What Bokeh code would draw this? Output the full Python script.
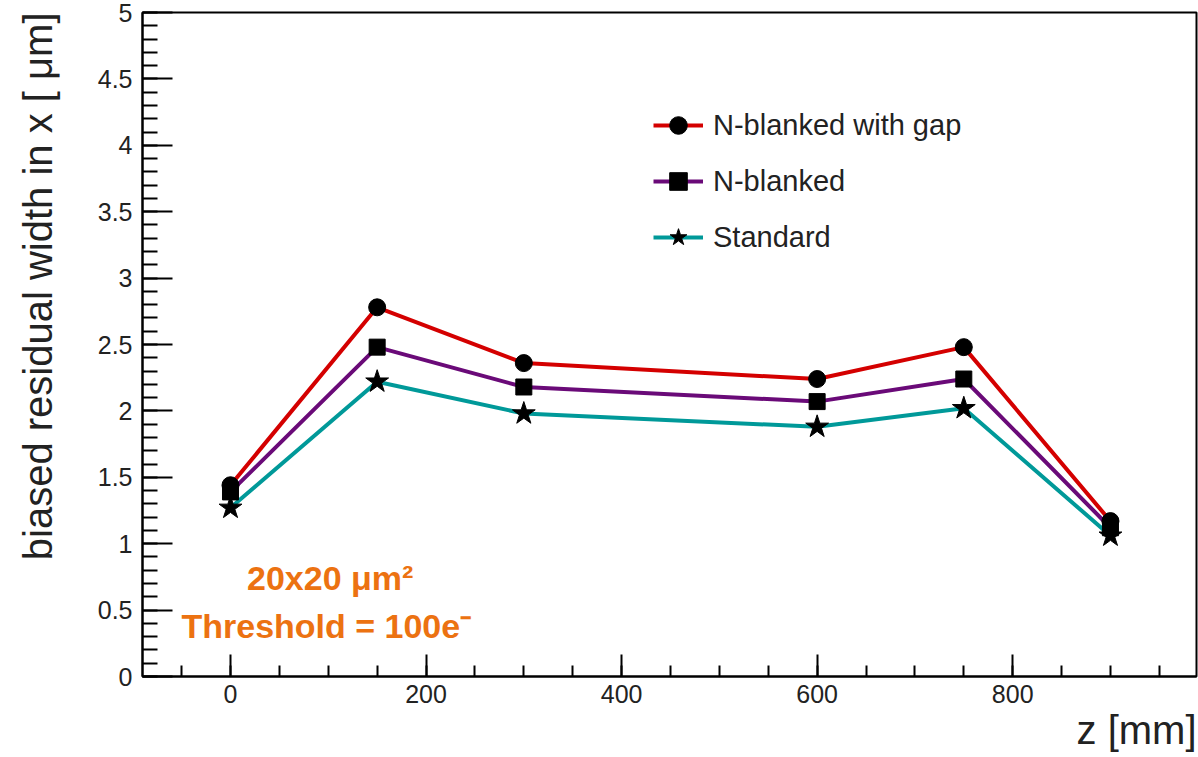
from bokeh.plotting import figure
from bokeh.models import (Range1d, SingleIntervalTicker, CustomJSTickFormatter, Label,
                          Legend, LegendItem, Title)
from bokeh.embed import file_html
from bokeh.resources import INLINE

# ---- data ----
z_mm = [0, 150, 300, 600, 750, 900]
nblanked_gap = [1.44, 2.78, 2.36, 2.24, 2.48, 1.17]
nblanked = [1.39, 2.48, 2.18, 2.07, 2.24, 1.12]
standard = [1.27, 2.22, 1.98, 1.88, 2.02, 1.06]
series_labels = ["N-blanked with gap", "N-blanked", "Standard"]
x_title = "z [mm]"
y_title = "biased residual width in x [ μm]"
note_lines = ["20x20 μm²", "Threshold = 100e⁻"]

FONT = "Liberation Sans"
TXT = "#222222"

p = figure(width=1198, height=757, output_backend="svg", toolbar_location=None,
           x_range=Range1d(-90, 988), y_range=Range1d(0, 5),
           min_border_left=142, min_border_right=2, min_border_top=12, min_border_bottom=81,
           background_fill_color="white", border_fill_color="white")
p.grid.visible = False
p.outline_line_color = "black"
p.outline_line_width = 2

# axes
p.xaxis.ticker = SingleIntervalTicker(interval=200, num_minor_ticks=4)
p.yaxis.ticker = SingleIntervalTicker(interval=0.5, num_minor_ticks=5)
p.yaxis.formatter = CustomJSTickFormatter(code="return tick.toString();")
for ax in (p.xaxis[0], p.yaxis[0]):
    ax.axis_line_color = "black"
    ax.axis_line_width = 2
    ax.major_tick_line_color = "black"
    ax.minor_tick_line_color = "black"
    ax.major_tick_line_width = 2
    ax.minor_tick_line_width = 2
    ax.major_tick_out = 0
    ax.minor_tick_out = 0
    ax.major_label_text_font = FONT
    ax.major_label_text_font_size = "25px"
    ax.major_label_text_color = TXT
p.xaxis.major_tick_in = 22
p.xaxis.minor_tick_in = 11
p.xaxis.major_label_standoff = 8
p.yaxis.major_tick_in = 30
p.yaxis.minor_tick_in = 15
p.yaxis.major_label_standoff = 10

# series
colors = ["#d40000", "#6a0a78", "#009999"]
markers = ["circle", "square", "star"]
sizes = [17, 16, 24]
items = []
for vals, col, lab in zip([nblanked_gap, nblanked, standard], colors, series_labels):
    lr = p.line(z_mm, vals, line_color=col, line_width=4)
    items.append((lab, lr, vals))
legend_items = []
for (lab, lr, vals), mk, sz in zip(items, markers, sizes):
    sr = p.scatter(z_mm, vals, marker=mk, size=sz, fill_color="black", line_color="black")
    legend_items.append(LegendItem(label=lab, renderers=[lr, sr]))

legend = Legend(items=legend_items, location=(511, 417), orientation="vertical",
                glyph_width=50, glyph_height=44, label_height=44, spacing=12,
                label_standoff=10, padding=0, margin=0,
                border_line_alpha=0, background_fill_alpha=0,
                label_text_font=FONT, label_text_font_size="29px", label_text_color=TXT)
p.add_layout(legend)

# axis titles (a thin spacer keeps the y title near the outer edge)
p.add_layout(Title(text=" ", text_font_size="1px", standoff=22), "left")
p.add_layout(Title(text=y_title, align="right", text_font=FONT, text_font_size="40px",
                   text_font_style="normal", text_color=TXT, standoff=20), "left")
p.add_layout(Title(text=x_title, align="right", text_font=FONT, text_font_size="40px",
                   text_font_style="normal", text_color=TXT, standoff=0,
                   text_line_height=0.8), "below")

# orange annotation
ORANGE = "#ec7211"
p.add_layout(Label(x=102, y=0.738, text=note_lines[0], text_align="center",
                   text_baseline="alphabetic", text_font=FONT, text_font_style="bold",
                   text_font_size="34px", text_color=ORANGE))
p.add_layout(Label(x=98, y=0.384, text=note_lines[1], text_align="center",
                   text_baseline="alphabetic", text_font=FONT, text_font_style="bold",
                   text_font_size="34px", text_color=ORANGE))

open("out.html", "w").write(file_html(p, INLINE))
